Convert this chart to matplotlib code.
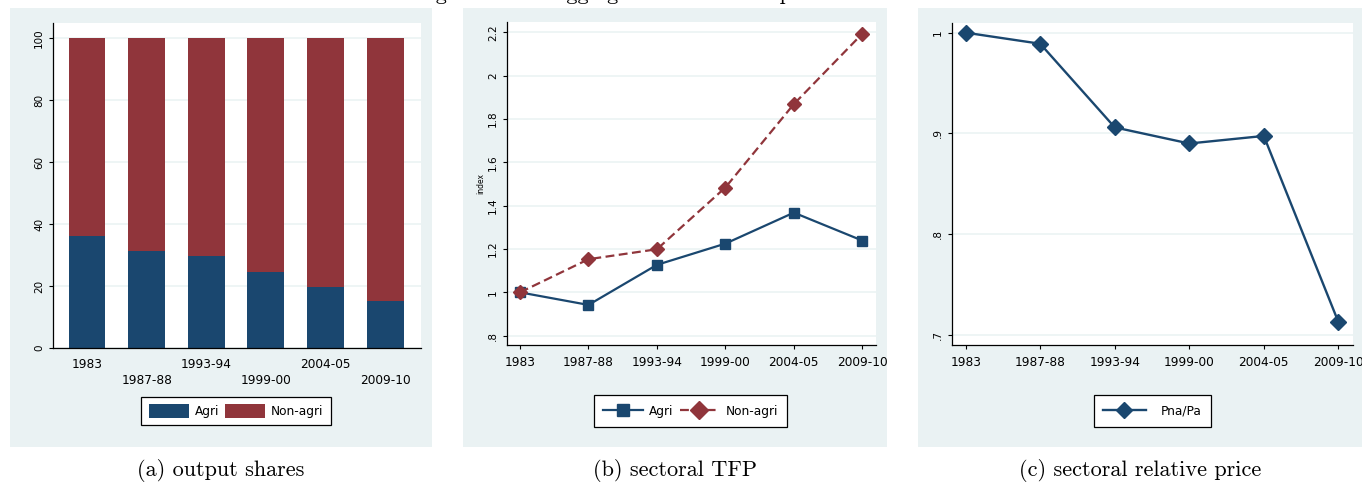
import matplotlib
matplotlib.use("Agg")
import matplotlib.pyplot as plt
from matplotlib.patches import Rectangle
import numpy as np

# data
periods = ["1983", "1987-88", "1993-94", "1999-00", "2004-05", "2009-10"]
agri_share = [36.2, 31.4, 29.8, 24.7, 19.8, 15.2]
nonagri_share = [100 - v for v in agri_share]
tfp_agri = [1.00, 0.942, 1.127, 1.225, 1.368, 1.239]
tfp_nonagri = [1.00, 1.153, 1.199, 1.484, 1.869, 2.194]
rel_price = [1.00, 0.989, 0.906, 0.890, 0.8975, 0.713]

captions = ["(a) output shares", "(b) sectoral TFP", "(c) sectoral relative price"]
title = "Figure 1: The aggregate and sectoral performance"

NAVY = "#1a476f"
MAROON = "#90353b"
BG = "#eaf2f3"
W, H = 1362, 483
FS = 8.7


def fr(l, t, r, b):
    # pixel box -> figure fraction rect
    return [l / W, 1 - b / H, (r - l) / W, (b - t) / H]


def stata_fmt(v):
    s = ("%.1f" % v).rstrip("0").rstrip(".")
    if s.startswith("0."):
        s = s[1:]
    return s


fig = plt.figure(figsize=(W / 100, H / 100), dpi=100)
fig.patch.set_facecolor("white")

panels = [(10, 8, 432, 447), (463, 8, 887, 447), (918, 8, 1362, 447)]
bgs = []
for (l, t, r, b) in panels:
    rect = Rectangle((l / W, 1 - b / H), (r - l) / W, (b - t) / H,
                     transform=fig.transFigure, facecolor=BG, edgecolor="none", zorder=-5)
    fig.patches.append(rect)
    bgs.append(rect)

# title sits mostly above the top edge, as in the reference
fig.text(415 / W, 1.0, title, family="cmr10", fontsize=16, va="baseline", ha="left")
for (l, t, r, b), cap in zip(panels, captions):
    fig.text((l + r) / 2 / W, 1 - 470 / H, cap, family="cmr10", fontsize=16,
             ha="center", va="center")


def style(ax):
    ax.set_facecolor("white")
    for s in ["top", "right"]:
        ax.spines[s].set_visible(False)
    for s in ["left", "bottom"]:
        ax.spines[s].set_linewidth(0.9)
    ax.grid(axis="y", color=BG, linewidth=1.1)
    ax.set_axisbelow(True)
    ax.tick_params(axis="both", labelsize=7.5, length=3, width=0.8, direction="out")
    ax.tick_params(axis="x", labelsize=FS)
    for lab in ax.get_yticklabels():
        lab.set_rotation(90)
        lab.set_va("center")


def legend(ax, cx, **kw):
    opts = dict(loc="center", bbox_to_anchor=(cx / W, 1 - 411 / H),
                bbox_transform=fig.transFigure, fancybox=False, edgecolor="black",
                framealpha=1, fontsize=FS, handlelength=3.3, handletextpad=0.5,
                columnspacing=0.5)
    opts.update(kw)
    lg = ax.legend(**opts)
    lg.get_frame().set_linewidth(0.9)
    return lg


# (a) output shares
ax1 = fig.add_axes(fr(53, 23, 421, 348))
x = np.arange(len(periods))
ax1.bar(x, agri_share, width=0.62, color=NAVY, label="Agri")
ax1.bar(x, nonagri_share, width=0.62, bottom=agri_share, color=MAROON, label="Non-agri")
ax1.set_xlim(-0.57, 5.6)
ax1.set_ylim(0, 105)
ax1.set_yticks([0, 20, 40, 60, 80, 100])
ax1.set_xticks(x)
ax1.set_xticklabels(periods)
style(ax1)
ax1.tick_params(axis="x", length=0)
for i, tk in enumerate(ax1.xaxis.get_major_ticks()):
    tk.set_pad(7 if i % 2 == 0 else 19)
legend(ax1, 236, ncol=2, handleheight=1.4, borderpad=0.6, borderaxespad=0)

# (b) sectoral TFP
ax2 = fig.add_axes(fr(507, 22, 876, 345))
ax2.plot(x, tfp_agri, color=NAVY, lw=1.6, marker="s", ms=7.5, label="Agri")
ax2.plot(x, tfp_nonagri, color=MAROON, lw=1.6, ls=(0, (4, 2)), marker="D", ms=7.5,
         label="Non-agri")
ax2.set_xlim(-0.19, 5.2)
ax2.set_ylim(0.757, 2.248)
yt2 = np.arange(0.8, 2.21, 0.2)
ax2.set_yticks(yt2)
ax2.set_yticklabels([stata_fmt(v) for v in yt2])
ax2.set_xticks(x)
ax2.set_xticklabels(periods)
style(ax2)
ax2.tick_params(axis="x", pad=5)
ax2.set_ylabel("index", fontsize=5.5, labelpad=2)
legend(ax2, 690.5, ncol=2, borderpad=0.75, markerscale=1.2)

# (c) sectoral relative price
ax3 = fig.add_axes(fr(952, 23, 1353, 345))
ax3.plot(x, rel_price, color=NAVY, lw=1.7, marker="D", ms=8.5, label="Pna/Pa")
ax3.set_xlim(-0.184, 5.197)
ax3.set_ylim(0.690, 1.0096)
yt3 = [0.7, 0.8, 0.9, 1.0]
ax3.set_yticks(yt3)
ax3.set_yticklabels([stata_fmt(v) for v in yt3])
ax3.set_xticks(x)
ax3.set_xticklabels(periods)
style(ax3)
ax3.tick_params(axis="x", pad=5)
legend(ax3, 1152, borderpad=0.75, handlelength=3.6, handletextpad=1.2)

# tick labels running past a panel get cut by the panel background
for ax, bg in zip([ax1, ax2, ax3], bgs):
    for lab in ax.get_xticklabels():
        lab.set_clip_path(bg)

fig.savefig("out.png", dpi=100)
